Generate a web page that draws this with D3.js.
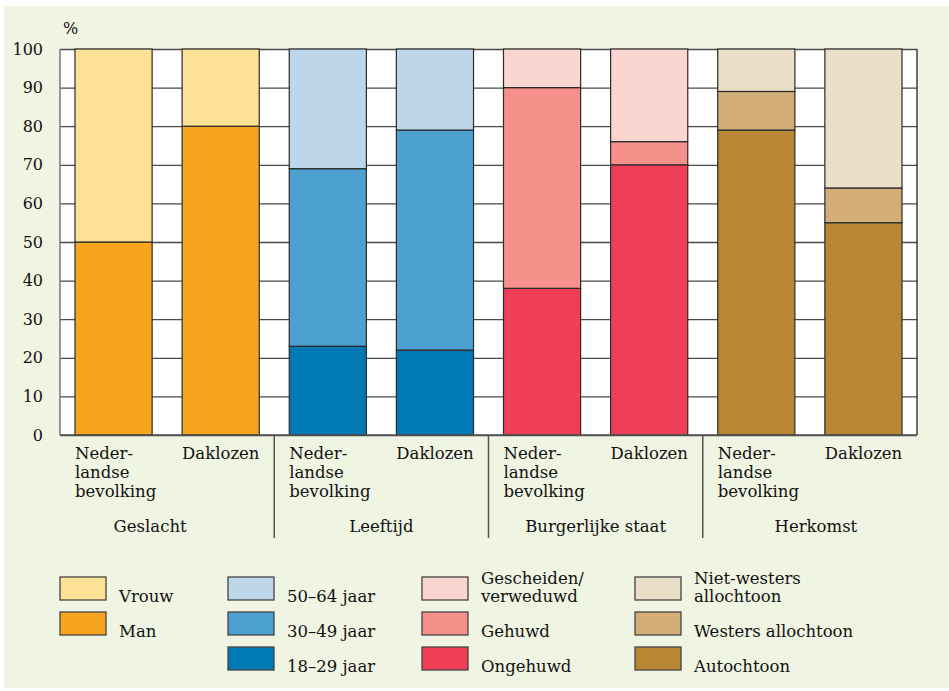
<!DOCTYPE html>
<html>
<head>
<meta charset="utf-8">
<script src="https://cdn.jsdelivr.net/npm/d3@7"></script>
<style>
  body { margin: 0; background: #fff; }
  svg text { font-family: "DejaVu Serif", serif; fill: #111; }
</style>
</head>
<body>
<svg id="chart"></svg>
<script>
// Data
const groups = ["Geslacht", "Leeftijd", "Burgerlijke staat", "Herkomst"];
const barLabels = [["Neder-", "landse", "bevolking"], ["Daklozen"]];

// series per group, bottom to top
const geslachtKeys = ["Man", "Vrouw"];
const geslachtValues = [[50, 50], [80, 20]];

const leeftijdKeys = ["18–29 jaar", "30–49 jaar", "50–64 jaar"];
const leeftijdValues = [[23, 46, 31], [22, 57, 21]];

const burgerKeys = ["Ongehuwd", "Gehuwd", "Gescheiden/verweduwd"];
const burgerValues = [[38, 52, 10], [70, 6, 24]];

const herkomstKeys = ["Autochtoon", "Westers allochtoon", "Niet-westers allochtoon"];
const herkomstValues = [[79, 10, 11], [55, 9, 36]];

// legend text (top item first)
const legendLabels = [
    [["Vrouw"], ["Man"]],
    [["50–64 jaar"], ["30–49 jaar"], ["18–29 jaar"]],
    [["Gescheiden/", "verweduwd"], ["Gehuwd"], ["Ongehuwd"]],
    [["Niet-westers", "allochtoon"], ["Westers allochtoon"], ["Autochtoon"]]
];

const yTicks = [0, 10, 20, 30, 40, 50, 60, 70, 80, 90, 100];

// Colours, bottom to top per group
const groupColors = [
    ["#f7a51e", "#fde194"],
    ["#0079b5", "#4ca1d0", "#bed6ea"],
    ["#ef3f57", "#f5908b", "#fbd5cf"],
    ["#b98734", "#d3ae78", "#ecdfca"]
];

const groupKeys = [geslachtKeys, leeftijdKeys, burgerKeys, herkomstKeys];
const groupValues = [geslachtValues, leeftijdValues, burgerValues, herkomstValues];

// Chart dimensions
const width = 949;
const height = 691;
const plotLeft = 60, plotRight = 917, plotTop = 49, plotBottom = 435;

const svg = d3.select("#chart")
    .attr("width", width)
    .attr("height", height);

// Panel background
svg.append("rect")
    .attr("x", 4).attr("y", 6)
    .attr("width", width - 4).attr("height", 682)
    .attr("fill", "#f0f4e2");

// Build bars
const bars = [];
groups.forEach((g, gi) => {
    groupValues[gi].forEach((vals, bi) => {
        const row = {};
        groupKeys[gi].forEach((k, ki) => row[k] = vals[ki]);
        const stacked = d3.stack().keys(groupKeys[gi])([row]);
        bars.push({
            id: gi * 2 + bi,
            group: gi,
            label: barLabels[bi],
            segments: stacked.map((s, si) => ({
                key: s.key, y0: s[0][0], y1: s[0][1], color: groupColors[gi][si]
            }))
        });
    });
});

// Scales
const xScale = d3.scaleBand()
    .domain(bars.map(d => d.id))
    .range([plotLeft, plotRight])
    .paddingInner(0.28)
    .paddingOuter(0.14);

const yScale = d3.scaleLinear()
    .domain([0, 100])
    .range([plotBottom, plotTop]);

// Plot area
svg.append("rect")
    .attr("x", plotLeft).attr("y", plotTop)
    .attr("width", plotRight - plotLeft).attr("height", plotBottom - plotTop)
    .attr("fill", "#fff");

// Gridlines
svg.append("g")
    .attr("transform", `translate(${plotLeft},0)`)
    .call(d3.axisLeft(yScale).tickValues(yTicks).tickSize(-(plotRight - plotLeft)).tickFormat(""))
    .call(g => g.select(".domain").remove())
    .call(g => g.selectAll("line").attr("stroke", "#4a4a4a").attr("stroke-width", 1.3));

// Plot borders
svg.append("line")
    .attr("x1", plotLeft).attr("x2", plotLeft).attr("y1", plotTop).attr("y2", plotBottom)
    .attr("stroke", "#777").attr("stroke-width", 1.5);
svg.append("line")
    .attr("x1", plotRight).attr("x2", plotRight).attr("y1", plotTop).attr("y2", plotBottom)
    .attr("stroke", "#111").attr("stroke-width", 1.2);

// Stacked bars
const barG = svg.selectAll(".bar")
    .data(bars)
    .enter()
    .append("g")
    .attr("class", "bar");

barG.selectAll("rect")
    .data(d => d.segments.map(s => ({ ...s, id: d.id })))
    .enter()
    .append("rect")
    .attr("x", d => xScale(d.id))
    .attr("y", d => yScale(d.y1))
    .attr("width", xScale.bandwidth())
    .attr("height", d => yScale(d.y0) - yScale(d.y1))
    .attr("fill", d => d.color)
    .attr("stroke", "#2a2a2a")
    .attr("stroke-width", 1.2);

// Bottom axis line
svg.append("line")
    .attr("x1", plotLeft).attr("x2", plotRight).attr("y1", plotBottom).attr("y2", plotBottom)
    .attr("stroke", "#555").attr("stroke-width", 1.5);

// Y axis labels
const yAxis = d3.axisLeft(yScale).tickValues(yTicks).tickSize(0).tickPadding(17);
svg.append("g")
    .attr("transform", `translate(${plotLeft},0)`)
    .call(yAxis)
    .call(g => g.select(".domain").remove())
    .call(g => g.selectAll("text")
        .style("font-family", '"DejaVu Serif", serif')
        .style("font-size", "16px")
        .attr("fill", "#111"));

svg.append("text")
    .attr("x", 63).attr("y", 34)
    .style("font-size", "16px")
    .text("%");

// Bar labels
bars.forEach(b => {
    const t = svg.append("text")
        .attr("x", xScale(b.id))
        .attr("y", 459)
        .style("font-size", "16.5px");
    b.label.forEach((line, i) => {
        t.append("tspan")
            .attr("x", xScale(b.id))
            .attr("dy", i === 0 ? 0 : 19)
            .text(line);
    });
});

// Group separators and labels
const step = xScale.step();
const bounds = groups.map((g, gi) => plotLeft + gi * 2 * step);
bounds[0] = plotLeft - 34;
bounds.push(plotRight + 12);
groups.forEach((g, gi) => {
    if (gi > 0) {
        svg.append("line")
            .attr("x1", bounds[gi]).attr("x2", bounds[gi])
            .attr("y1", plotBottom).attr("y2", 538)
            .attr("stroke", "#555").attr("stroke-width", 1.5);
    }
    svg.append("text")
        .attr("x", (bounds[gi] + bounds[gi + 1]) / 2)
        .attr("y", 532)
        .attr("text-anchor", "middle")
        .style("font-size", "16.5px")
        .text(g);
});

// Legend
const legendX = [60, 228, 422, 635];
const legendY = [577, 612, 647];
legendLabels.forEach((col, ci) => {
    const cols = groupColors[ci].slice().reverse();
    col.forEach((lines, ri) => {
        svg.append("rect")
            .attr("x", legendX[ci]).attr("y", legendY[ri])
            .attr("width", 46).attr("height", 23)
            .attr("fill", cols[ri])
            .attr("stroke", "#444")
            .attr("stroke-width", 1.3);
        lines.forEach((line, li) => {
            svg.append("text")
                .attr("x", legendX[ci] + 59)
                .attr("y", legendY[ri] + 25 - (lines.length - 1 - li) * 18)
                .style("font-size", "16.5px")
                .text(line);
        });
    });
});
</script>
</body>
</html>
